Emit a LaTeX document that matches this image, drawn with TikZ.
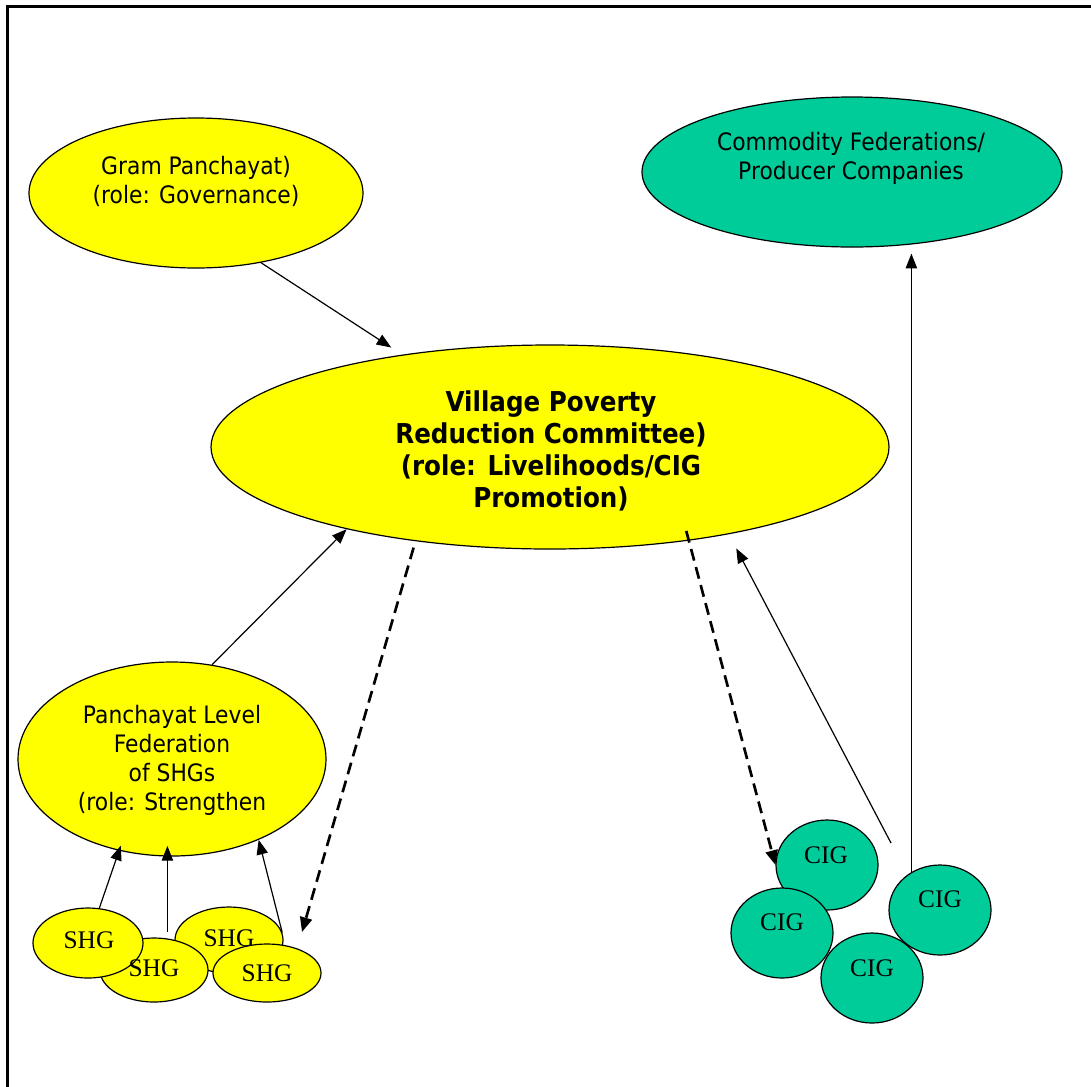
\documentclass[tikz,border=0pt]{standalone}
\usepackage{fontspec}
\setmainfont{DejaVu Sans}[FakeStretch=0.91]
\newfontfamily\vprcfont{DejaVu Sans}[FakeStretch=0.9]
\newfontfamily\grpfont{Liberation Serif}
\usetikzlibrary{arrows.meta,calc,shapes.geometric}
\definecolor{sunyellow}{RGB}{255,255,0}
\definecolor{cigreen}{RGB}{0,204,153}

\begin{document}
\begin{tikzpicture}[x=0.75pt,y=-0.75pt,
  blob/.style={ellipse, draw=black, line width=0.9pt, inner sep=0pt},
  yblob/.style={blob, fill=sunyellow},
  gblob/.style={blob, fill=cigreen},
  esize/.style 2 args={minimum width=#1*1.5pt, minimum height=#2*1.5pt},
  lbl/.style={align=center, inner sep=0pt, font=\fontsize{18}{21.75}\selectfont},
  grp/.style={inner sep=0pt, font=\grpfont\fontsize{19}{20}\selectfont},
  link/.style={line width=0.9pt, -{Triangle[length=11pt,width=8.5pt]}},
  flow/.style={line width=2pt, dash pattern=on 9pt off 5pt, -{Triangle[length=11pt,width=9pt]}},
]
\useasboundingbox (0,0) rectangle (1091,1086);
% page frame
\draw[line width=1.7pt] (7.5,1092) -- (7.5,6.5) -- (1096,6.5);

% upper level bodies
\node[yblob, esize={167}{75}] (gp) at (196,193) {};
\node[gblob, esize={210}{75}] (cf) at (852,172) {};
\node[yblob, esize={339}{102}] (vprc) at (550,447) {};
\node[yblob, esize={154}{97}] (plf) at (172,759) {};

% self help groups
\node[yblob, esize={54}{33}] (shg3) at (229,940) {};
\node[yblob, esize={54}{32}] (shg2) at (154,970) {};
\node[yblob, esize={55}{35}] (shg1) at (88,943) {};
\node[yblob, esize={54}{29}] (shg4) at (267,973) {};

% common interest groups
\node[gblob, esize={51}{45}] (cig1) at (827,865) {};
\node[gblob, esize={51}{45}] (cig4) at (940,910) {};
\node[gblob, esize={51}{45}] (cig2) at (782,933) {};
\node[gblob, esize={51}{45}] (cig3) at (872,978) {};

% labels
\node[lbl] (gpt) at (196,181) {Gram Panchayat)\\(role: Governance)};
\node[lbl] (cft) at (851,158) {Commodity Federations/\\Producer Companies};
\node[lbl, font=\vprcfont\bfseries\fontsize{20.5}{24}\selectfont] (vprct) at (551,451)
  {Village Poverty\\Reduction Committee)\\(role: Livelihoods/CIG\\Promotion)};
\node[lbl] (plft) at (172,760) {Panchayat Level\\Federation\\of SHGs\\(role: Strengthen};

\node[grp] (shg1t) at (89,940) {SHG};
\node[grp] (shg2t) at (154,968) {SHG};
\node[grp] (shg3t) at (229,938) {SHG};
\node[grp] (shg4t) at (267,973) {SHG};
\node[grp] (cig1t) at (826,855) {CIG};
\node[grp] (cig2t) at (782,922) {CIG};
\node[grp] (cig3t) at (872,968) {CIG};
\node[grp] (cig4t) at (940,899) {CIG};

% reporting links
\draw[link, shorten >=9.75pt] (gp.-47) -- (vprc.148);
\draw[link] (plf.67) -- (vprc.202);
\draw[link, shorten >=-4pt] (shg1.72) -- (plf.240);
\draw[link, shorten <=4.5pt, shorten >=-8pt] (shg2.67) -- (shg2.67 |- plf.south);
\draw[link] (shg3.8) -- (plf.317);
\draw[link, shorten >=4.5pt] (cig4.127) -- (cig4.127 |- cf.south);
\coordinate (cigup) at (891,843);
\draw[link, shorten >=12pt] (cigup) -- (vprc.-26);

% promotion flows
\coordinate (shgin) at (302,932);
\draw[flow, shorten <=5pt] (vprc.215) -- (shgin);
\draw[flow, shorten <=-7.5pt] (vprc.-34) -- (cig1.west);
\end{tikzpicture}
\end{document}
